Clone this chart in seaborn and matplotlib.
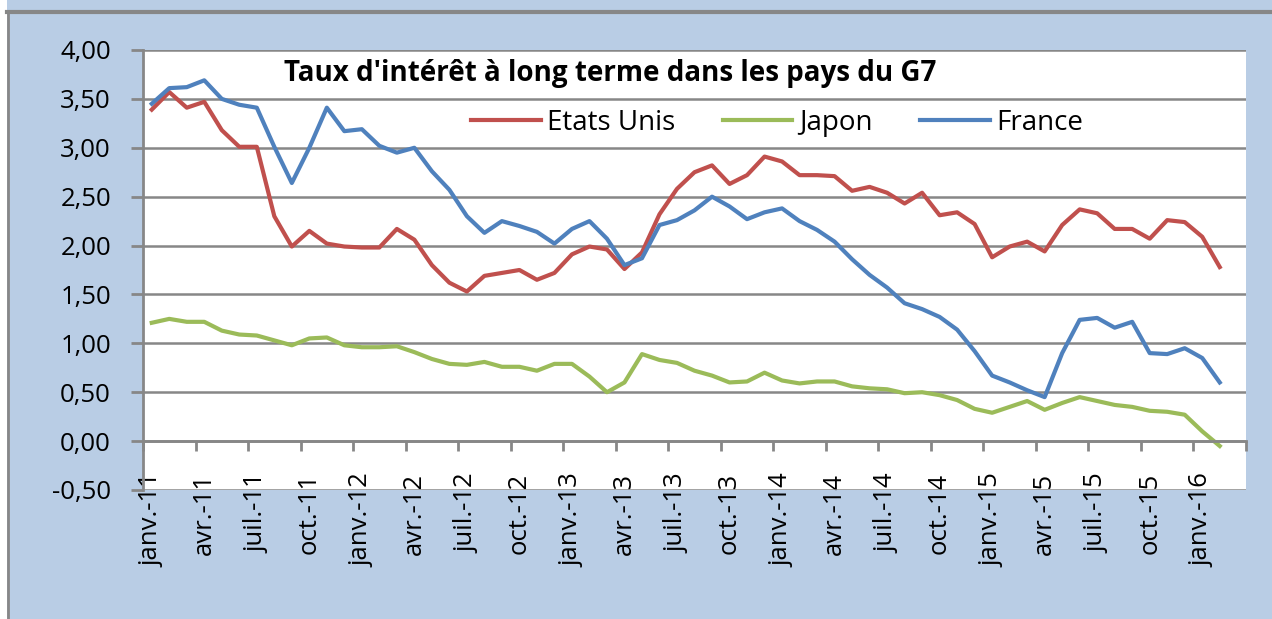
import matplotlib
matplotlib.use("Agg")
from matplotlib import pyplot as plt
from matplotlib.lines import Line2D
from matplotlib.patches import Rectangle
from matplotlib.ticker import FixedLocator, FuncFormatter
import pandas as pd
import seaborn as sns

# taux mensuels, janv. 2011 -> févr. 2016
etats_unis = [3.39, 3.57, 3.41, 3.47, 3.18, 3.01, 3.01, 2.30, 1.99, 2.15,
              2.02, 1.99, 1.98, 1.98, 2.17, 2.06, 1.80, 1.62, 1.53, 1.69,
              1.72, 1.75, 1.65, 1.72, 1.91, 1.99, 1.96, 1.76, 1.93, 2.32,
              2.58, 2.75, 2.82, 2.63, 2.72, 2.91, 2.86, 2.72, 2.72, 2.71,
              2.56, 2.60, 2.54, 2.43, 2.54, 2.31, 2.34, 2.22, 1.88, 1.99,
              2.04, 1.94, 2.21, 2.37, 2.33, 2.17, 2.17, 2.07, 2.26, 2.24,
              2.09, 1.78]
japon = [1.21, 1.25, 1.22, 1.22, 1.13, 1.09, 1.08, 1.03, 0.98, 1.05,
         1.06, 0.98, 0.96, 0.96, 0.97, 0.91, 0.84, 0.79, 0.78, 0.81,
         0.76, 0.76, 0.72, 0.79, 0.79, 0.66, 0.50, 0.60, 0.89, 0.83,
         0.80, 0.72, 0.67, 0.60, 0.61, 0.70, 0.62, 0.59, 0.61, 0.61,
         0.56, 0.54, 0.53, 0.49, 0.50, 0.47, 0.42, 0.33, 0.29, 0.35,
         0.41, 0.32, 0.39, 0.45, 0.41, 0.37, 0.35, 0.31, 0.30, 0.27,
         0.10, -0.05]
france = [3.45, 3.61, 3.62, 3.69, 3.50, 3.44, 3.41, 3.01, 2.64, 3.00,
          3.41, 3.17, 3.19, 3.02, 2.95, 3.00, 2.76, 2.57, 2.30, 2.13,
          2.25, 2.20, 2.14, 2.02, 2.17, 2.25, 2.07, 1.80, 1.87, 2.21,
          2.26, 2.36, 2.50, 2.40, 2.27, 2.34, 2.38, 2.25, 2.16, 2.04,
          1.86, 1.70, 1.57, 1.41, 1.35, 1.27, 1.14, 0.92, 0.67, 0.60,
          0.52, 0.45, 0.90, 1.24, 1.26, 1.16, 1.22, 0.90, 0.89, 0.95,
          0.85, 0.60]
pays = ["Etats Unis", "Japon", "France"]
couleurs = ["#C0504D", "#9BBB59", "#4F81BD"]
labels_x = ["janv.-11", "avr.-11", "juil.-11", "oct.-11",
            "janv.-12", "avr.-12", "juil.-12", "oct.-12",
            "janv.-13", "avr.-13", "juil.-13", "oct.-13",
            "janv.-14", "avr.-14", "juil.-14", "oct.-14",
            "janv.-15", "avr.-15", "juil.-15", "oct.-15",
            "janv.-16"]
titre = "Taux d'intérêt à long terme dans les pays du G7"

df = pd.DataFrame({"mois": range(len(france)),
                   "Etats Unis": etats_unis, "Japon": japon, "France": france})
df = df.melt(id_vars="mois", var_name="pays", value_name="taux")

plt.rcParams["font.family"] = ["Open Sans", "DejaVu Sans"]
bleu = "#B9CDE5"
gris = "#878787"

fig = plt.figure(figsize=(12.72, 6.19), dpi=100, facecolor=bleu)
# cadre extérieur (coupé) du graphique excel
fig.patches.append(Rectangle((0, 0), 7 / 1272, 1, transform=fig.transFigure,
                             facecolor="white", edgecolor="none"))
fig.add_artist(Line2D([7 / 1272, 1], [1 - 12 / 619] * 2, transform=fig.transFigure,
                      color=gris, linewidth=3))
fig.add_artist(Line2D([8 / 1272] * 2, [0, 1 - 12 / 619], transform=fig.transFigure,
                      color=gris, linewidth=2))

ax = fig.add_axes([143 / 1272, 1 - 490 / 619, 1103 / 1272, 440 / 619])
ax.set_facecolor("white")

sns.lineplot(data=df, x="mois", y="taux", hue="pays", hue_order=pays,
             palette=couleurs, linewidth=3, ax=ax, legend=False)

ax.set_xlim(-0.5, 62.5)
ax.set_ylim(-0.5, 4.0)
ax.set_xlabel("")
ax.set_ylabel("")

ax.yaxis.set_major_locator(FixedLocator([-0.5 + 0.5 * k for k in range(10)]))
ax.yaxis.set_major_formatter(FuncFormatter(lambda v, p: f"{v:.2f}".replace(".", ",")))
ax.yaxis.grid(True, color=gris, linewidth=1.8)
ax.set_axisbelow(True)
ax.tick_params(axis="y", length=9, width=2, color=gris, pad=14,
               labelsize=18.5, labelcolor="black")

# ticks entre catégories, libellés au centre tous les trois mois
ax.xaxis.set_major_locator(FixedLocator([-0.5 + 3 * k for k in range(22)]))
ax.xaxis.set_major_formatter(FuncFormatter(lambda v, p: ""))
ax.xaxis.set_minor_locator(FixedLocator([3 * k for k in range(len(labels_x))]))
ax.set_xticklabels(labels_x, minor=True)
ax.tick_params(axis="x", which="major", length=7, width=2, color=gris, direction="out")
ax.tick_params(axis="x", which="minor", length=0, pad=23, labelsize=18.5,
               labelrotation=90, labelcolor="black")
for t in ax.get_xticklabels(minor=True):
    t.set_va("top")

ax.spines["bottom"].set_position(("data", 0))
ax.spines["bottom"].set_color(gris)
ax.spines["bottom"].set_linewidth(2)
ax.spines["left"].set_color(gris)
ax.spines["left"].set_linewidth(2)
ax.spines["top"].set_visible(False)
ax.spines["right"].set_visible(False)

ax.text(0.128, 0.947, titre, transform=ax.transAxes, ha="left", va="center",
        fontsize=20, fontweight="bold")

handles = [Line2D([], [], color=c, linewidth=3) for c in couleurs]
ax.legend(handles, pays, loc="center", bbox_to_anchor=(0.575, 0.834), ncol=3,
          frameon=False, fontsize=20, handlelength=2.5, handletextpad=0.25,
          columnspacing=1.7)

fig.savefig("out.png", dpi=100, facecolor=bleu)
